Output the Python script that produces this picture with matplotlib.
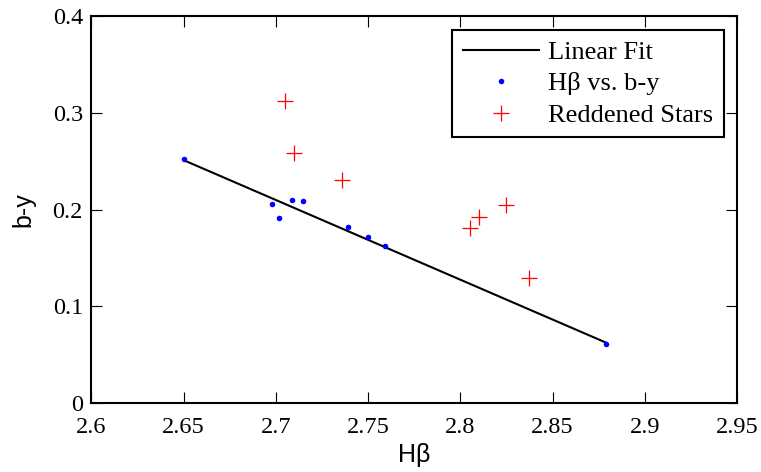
import numpy as np
import matplotlib
matplotlib.use("Agg")
import matplotlib.pyplot as plt

# H-beta vs b-y for normal stars
hbeta = [2.650, 2.698, 2.702, 2.709, 2.715, 2.739, 2.750, 2.759, 2.879]
by = [0.252, 0.206, 0.191, 0.210, 0.209, 0.182, 0.172, 0.162, 0.061]

# reddened stars
red_hbeta = [2.705, 2.710, 2.736, 2.805, 2.810, 2.825, 2.837]
red_by = [0.312, 0.259, 0.231, 0.181, 0.192, 0.205, 0.129]

# linear fit line, end points
fit_hbeta = [2.650, 2.879]
fit_by = [0.2512, 0.0622]

xticks = [2.6, 2.65, 2.7, 2.75, 2.8, 2.85, 2.9, 2.95]
yticks = [0, 0.1, 0.2, 0.3, 0.4]

fig = plt.figure(figsize=(7.61, 4.72), dpi=100)
ax = fig.add_axes([0.12, 0.1468, 0.8485, 0.8184])

ax.plot(fit_hbeta, fit_by, color='black', lw=1.5, label='Linear Fit')
ax.plot(hbeta, by, 'o', color='blue', markersize=4, markeredgewidth=0,
        label='H\u03b2 vs. b-y')
ax.plot(red_hbeta, red_by, '+', color='red', markersize=12,
        markeredgewidth=0.9, label='Reddened Stars')

ax.set_xlim(2.6, 2.95)
ax.set_ylim(0, 0.4)
ax.set_xticks(xticks)
ax.set_yticks(yticks)
ax.set_xticklabels([f"{t:g}" for t in xticks], family='Liberation Serif', fontsize=17.5)
ax.set_yticklabels([f"{t:g}" for t in yticks], family='Liberation Serif', fontsize=17.5)
ax.tick_params(direction='in', top=True, right=True, length=8, width=0.8)
ax.tick_params(axis='x', pad=10)
ax.tick_params(axis='y', pad=6)
for s in ax.spines.values():
    s.set_linewidth(1.5)

ax.set_xlabel('H\u03b2', family='Liberation Sans', fontsize=18)
ax.set_ylabel('b-y', family='Liberation Sans', fontsize=18)
ax.xaxis.set_label_coords(0.5, -0.1035)
ax.yaxis.set_label_coords(-0.087, 0.5)

leg = ax.legend(loc='upper right', bbox_to_anchor=(0.98, 0.965), borderaxespad=0,
                prop={'family': 'Liberation Serif', 'size': 19}, fancybox=False,
                edgecolor='black', framealpha=1, handlelength=2.9,
                handletextpad=0.35, labelspacing=0.3, borderpad=0.4)
leg.get_frame().set_linewidth(1.5)

fig.savefig('out.png', dpi=100)
